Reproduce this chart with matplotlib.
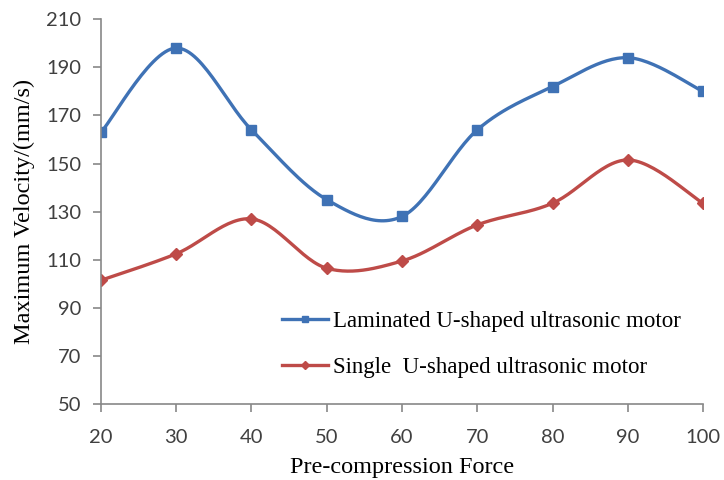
import numpy as np
import matplotlib.pyplot as plt

force = [20, 30, 40, 50, 60, 70, 80, 90, 100]
laminated = [163, 198, 164, 135, 128, 164, 182, 194, 180]
single = [101.5, 112.5, 127, 106.5, 109.5, 124.5, 133.5, 151.5, 133.5]
y_ticks = [50, 70, 90, 110, 130, 150, 170, 190, 210]

blue = '#3f72b5'
red = '#be4b48'
grey = '#888888'


def smooth(x, y, n=30):
    # Catmull-Rom style bezier through the points, like the spreadsheet smoothing
    x = np.asarray(x, float)
    y = np.asarray(y, float)
    px = np.concatenate([[x[0]], x, [x[-1]]])
    py = np.concatenate([[y[0]], y, [y[-1]]])
    xs, ys = [], []
    t = np.linspace(0, 1, n)
    for i in range(1, len(px) - 2):
        p0 = np.array([px[i], py[i]])
        p3 = np.array([px[i + 1], py[i + 1]])
        p1 = p0 + (np.array([px[i + 1], py[i + 1]]) - np.array([px[i - 1], py[i - 1]])) / 6
        p2 = p3 - (np.array([px[i + 2], py[i + 2]]) - np.array([px[i], py[i]])) / 6
        b = ((1 - t) ** 3)[:, None] * p0 + (3 * (1 - t) ** 2 * t)[:, None] * p1 \
            + (3 * (1 - t) * t ** 2)[:, None] * p2 + (t ** 3)[:, None] * p3
        xs.extend(b[:, 0])
        ys.extend(b[:, 1])
    return xs, ys


fig = plt.figure(figsize=(7.24, 4.8), dpi=100)
ax = fig.add_axes([0.1395, 0.158, 0.8315, 0.802])

sx, sy = smooth(force, laminated)
ax.plot(sx, sy, color=blue, lw=2.4)
ax.plot(force, laminated, 's', color=blue, ms=7.5)
sx, sy = smooth(force, single)
ax.plot(sx, sy, color=red, lw=2.4)
ax.plot(force, single, 'D', color=red, ms=6)

# legend proxies
ax.plot([], [], '-s', color=blue, lw=2.4, ms=5, label='Laminated U-shaped ultrasonic motor')
ax.plot([], [], '-D', color=red, lw=2.4, ms=4, label='Single  U-shaped ultrasonic motor')
handles, labels = ax.get_legend_handles_labels()
ax.legend(handles[-2:], labels[-2:], loc='lower left', bbox_to_anchor=(0.267, 0.014),
          frameon=False, handlelength=2.0, handletextpad=0.2, labelspacing=1.08,
          prop={'family': 'Liberation Serif', 'size': 16.5})

ax.set_xlim(20, 100)
ax.set_ylim(50, 210)
ax.set_xticks(force)
ax.set_yticks(y_ticks)
for s in ['top', 'right']:
    ax.spines[s].set_visible(False)
for s in ['left', 'bottom']:
    ax.spines[s].set_color(grey)
    ax.spines[s].set_linewidth(1.2)
ax.tick_params(colors=grey, length=6, width=1.2, labelsize=14.5)
ax.tick_params(axis='x', pad=12)
ax.tick_params(axis='y', pad=8)
for lab in ax.get_xticklabels() + ax.get_yticklabels():
    lab.set_color('#404040')
    lab.set_family('Lato')

ax.set_xlabel('Pre-compression Force', family='Liberation Serif', fontsize=17.5, labelpad=8)
ax.set_ylabel('Maximum Velocity/(mm/s)', family='Liberation Serif', fontsize=17.5, labelpad=8)

fig.savefig('out.png', dpi=100)
